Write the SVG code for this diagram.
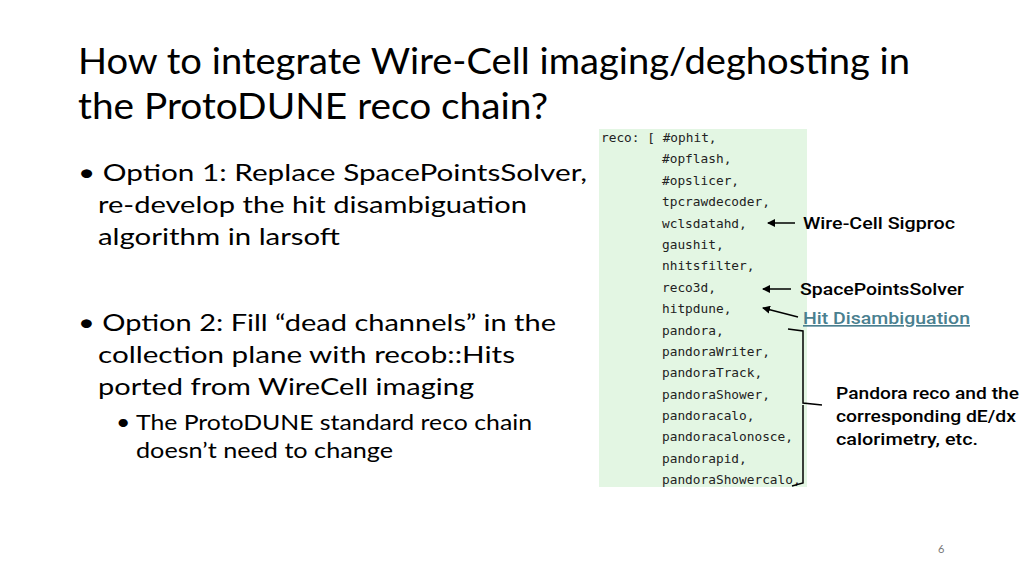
<svg xmlns="http://www.w3.org/2000/svg" width="1024" height="576" viewBox="0 0 1024 576">
<defs>
<style>
.t{font-family:Lato,"Liberation Sans",sans-serif;fill:#000}
.c{font-family:"DejaVu Sans Mono","Liberation Mono",monospace;font-size:12.8px;fill:#222}
.l{font-family:Roboto,"Liberation Sans",sans-serif;font-size:16.5px;font-weight:500;fill:#000}
.ln{stroke:#000;stroke-width:1.5;fill:none}
</style>
<marker id="a" markerWidth="8" markerHeight="8" refX="7" refY="4" orient="auto" markerUnits="userSpaceOnUse"><path d="M0,0 L8,4 L0,8 Z" fill="#000"/></marker>
</defs>
<rect width="1024" height="576" fill="#fff"/>
<g id="title">
<text class="t" x="78" y="74" font-size="36" textLength="832" lengthAdjust="spacingAndGlyphs">How to integrate Wire-Cell imaging/deghosting in</text>
<text class="t" x="78" y="119" font-size="36" textLength="470" lengthAdjust="spacingAndGlyphs">the ProtoDUNE reco chain?</text>
</g>
<g id="bullets" class="t" font-size="24">
<text x="78" y="181" textLength="509" lengthAdjust="spacingAndGlyphs">• Option 1:  Replace SpacePointsSolver,</text>
<text x="98" y="213" textLength="429" lengthAdjust="spacingAndGlyphs">re-develop the hit disambiguation</text>
<text x="98" y="245" textLength="242" lengthAdjust="spacingAndGlyphs">algorithm in larsoft</text>
<text x="78" y="331" textLength="478" lengthAdjust="spacingAndGlyphs">• Option 2: Fill “dead channels” in the</text>
<text x="98" y="363" textLength="417" lengthAdjust="spacingAndGlyphs">collection plane with recob::Hits</text>
<text x="98" y="395" textLength="376" lengthAdjust="spacingAndGlyphs">ported from WireCell imaging</text>
<text x="116" y="430" font-size="21" textLength="416" lengthAdjust="spacingAndGlyphs">• The ProtoDUNE standard reco chain</text>
<text x="136" y="458" font-size="21" textLength="257" lengthAdjust="spacingAndGlyphs">doesn’t need to change</text>
</g>
<g id="code">
<rect x="599" y="129" width="208" height="358" fill="#e3f6e3"/>
<text class="c" x="601" y="142">reco: [ #ophit,</text>
<text class="c" x="662" y="163">#opflash,</text>
<text class="c" x="662" y="185">#opslicer,</text>
<text class="c" x="662" y="206">tpcrawdecoder,</text>
<text class="c" x="662" y="228">wclsdatahd,</text>
<text class="c" x="662" y="249">gaushit,</text>
<text class="c" x="662" y="270">nhitsfilter,</text>
<text class="c" x="662" y="292">reco3d,</text>
<text class="c" x="662" y="313">hitpdune,</text>
<text class="c" x="662" y="335">pandora,</text>
<text class="c" x="662" y="356">pandoraWriter,</text>
<text class="c" x="662" y="377">pandoraTrack,</text>
<text class="c" x="662" y="399">pandoraShower,</text>
<text class="c" x="662" y="420">pandoracalo,</text>
<text class="c" x="662" y="441">pandoracalonosce,</text>
<text class="c" x="662" y="463">pandorapid,</text>
<text class="c" x="662" y="484">pandoraShowercalo,</text>
</g>
<g id="connectors">
<line class="ln" x1="795" y1="223" x2="768" y2="223" marker-end="url(#a)"/>
<line class="ln" x1="791" y1="289" x2="763" y2="289" marker-end="url(#a)"/>
<line class="ln" x1="798" y1="317" x2="763" y2="308" marker-end="url(#a)"/>
<path class="ln" d="M788,329 L803,331 L803,403 L822,405 M803,405 L803,483 L792,486"/>
</g>
<g id="labels">
<text class="l" x="803" y="229" textLength="152" lengthAdjust="spacingAndGlyphs">Wire-Cell Sigproc</text>
<text class="l" x="800" y="295" textLength="164" lengthAdjust="spacingAndGlyphs">SpacePointsSolver</text>
<text class="l" x="803" y="324" style="fill:#4a7f8f" text-decoration="underline" textLength="167" lengthAdjust="spacingAndGlyphs">Hit Disambiguation</text>
<text class="l" x="836" y="399" textLength="183" lengthAdjust="spacingAndGlyphs">Pandora reco and the</text>
<text class="l" x="836" y="422" textLength="180" lengthAdjust="spacingAndGlyphs">corresponding dE/dx</text>
<text class="l" x="836" y="445" textLength="142" lengthAdjust="spacingAndGlyphs">calorimetry, etc.</text>
</g>
<text x="938" y="553" font-family="Lato,'Liberation Sans',sans-serif" font-size="11" fill="#777">6</text>
</svg>
